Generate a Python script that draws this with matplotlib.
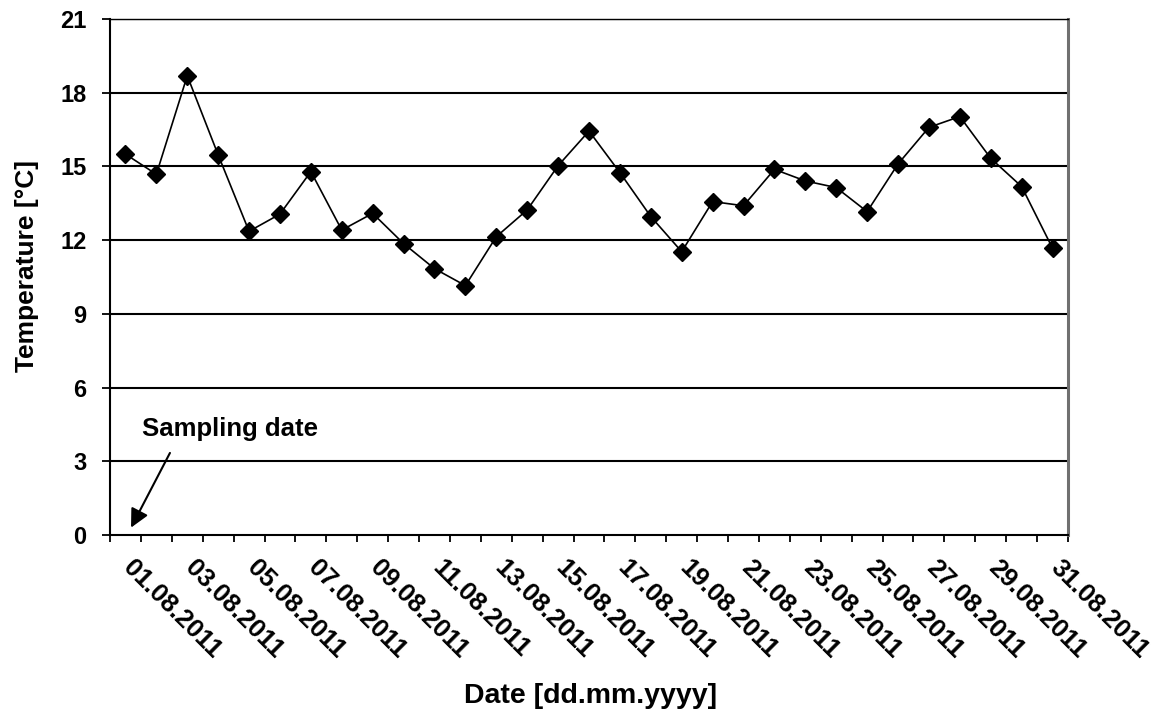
import matplotlib.pyplot as plt

plt.rcParams['font.family'] = ['Liberation Sans', 'DejaVu Sans']
plt.rcParams['font.weight'] = 'bold'

# daily water temperature, August 2011
days = list(range(1, 32))
temperature = [15.50, 14.68, 18.69, 15.47, 12.36, 13.06, 14.79, 12.41, 13.09, 11.86,
               10.84, 10.15, 12.14, 13.23, 15.03, 16.44, 14.75, 12.96, 11.53, 13.57,
               13.40, 14.88, 14.41, 14.14, 13.16, 15.10, 16.59, 17.03, 15.33, 14.18,
               11.67]
date_labels = ["%02d.08.2011" % d for d in days]
y_ticks = [0, 3, 6, 9, 12, 15, 18, 21]

fig = plt.figure(figsize=(11.55, 7.12), dpi=100)
ax = fig.add_axes([110 / 1155, 1 - 535 / 712, 958 / 1155, 516 / 712])

ax.plot(days, temperature, color='black', linewidth=1.2, marker='D',
        markersize=9, markerfacecolor='black', markeredgecolor='black', zorder=3)

ax.set_xlim(0.5, 31.5)
ax.set_ylim(0, 21)
ax.set_yticks(y_ticks)
ax.set_yticklabels([str(v) for v in y_ticks], fontsize=17, fontweight='bold')
for v in y_ticks[1:]:
    ax.axhline(v, color='black', linewidth=1.5, zorder=1)

# category boundaries carry the tick marks, labels sit on every second day
ax.set_xticks([d + 0.5 for d in [0] + days])
ax.set_xticklabels([])
ax.tick_params(axis='x', direction='out', length=5, width=1.3, pad=2)
ax.tick_params(axis='y', direction='out', length=6, width=1.3, pad=11)
for d in days[::2]:
    ax.text(d + 0.05, -1.2, date_labels[d - 1], rotation=-45, rotation_mode='anchor',
            ha='left', va='center', fontsize=18.5, fontweight='bold')

for side in ['left', 'bottom']:
    ax.spines[side].set_linewidth(1.5)
ax.spines['top'].set_linewidth(1.0)
ax.spines['right'].set_color('#707070')
ax.spines['right'].set_linewidth(2.2)

fig.text(27 / 1155, 1 - 266 / 712, 'Temperature [°C]', rotation=90, ha='center',
         va='center', fontsize=19, fontweight='bold')
fig.text(591 / 1155, 1 - 696 / 712, 'Date [dd.mm.yyyy]', ha='center', va='center',
         fontsize=20.5, fontweight='bold')

# note pointing at the first sampling day
ax.text(1.53, 4.03, 'Sampling date', fontsize=18.5, fontweight='bold',
        ha='left', va='baseline')
ax.annotate('', xy=(1.18, 0.3), xytext=(2.44, 3.34),
            arrowprops=dict(arrowstyle='-|>', color='black', linewidth=1.5,
                            mutation_scale=28, shrinkA=0, shrinkB=0))

fig.savefig('out.png', dpi=100)
